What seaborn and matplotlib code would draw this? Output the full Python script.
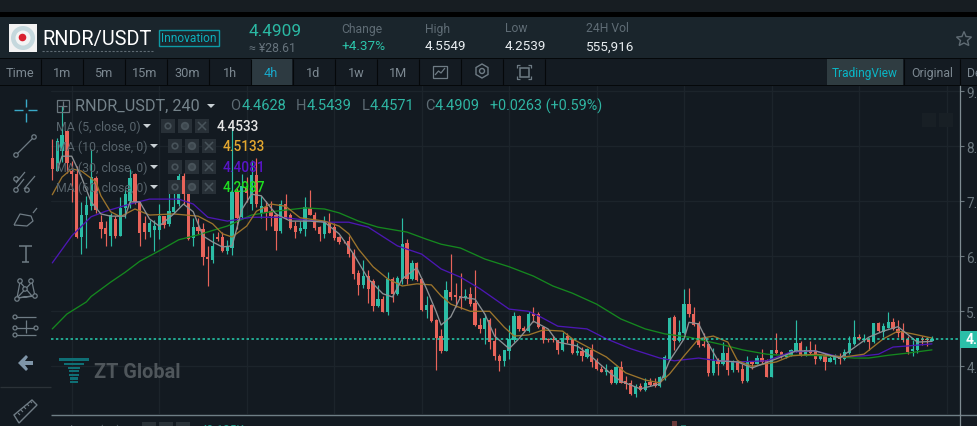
import matplotlib
matplotlib.use("Agg")
import matplotlib.pyplot as plt
from matplotlib.patches import Rectangle, Circle, Polygon
import numpy as np
import pandas as pd
import seaborn as sns

# --- candle data (4h RNDR/USDT) ---
opens = [7.78,7.56,7.91,8.28,7.55,7.49,6.35,6.75,6.91,7.43,6.62,6.51,6.37,6.67,6.37,6.87,7.00,7.49,6.98,6.60,
         6.44,6.48,6.48,6.73,6.58,6.81,6.95,7.46,7.19,6.33,6.54,6.49,5.99,5.93,6.36,6.35,6.10,6.15,7.17,6.72,
         7.25,6.95,7.47,6.79,6.90,6.82,6.75,6.46,6.95,6.75,6.55,6.46,6.49,6.87,6.76,6.54,6.40,6.61,6.54,6.35,
         6.28,6.27,6.06,5.69,5.47,5.65,5.55,5.10,5.22,4.99,5.58,5.31,5.58,6.24,5.59,5.88,5.58,5.02,5.11,4.84,
         4.56,4.28,5.36,5.29,5.28,5.24,5.31,5.15,4.76,4.67,4.85,4.46,4.19,4.10,4.28,4.47,4.92,4.70,4.65,4.95,
         4.95,4.72,4.49,4.49,4.47,4.29,4.55,4.49,4.24,4.28,4.17,4.29,4.10,3.96,3.90,3.93,3.69,3.99,3.73,3.70,
         3.49,3.64,3.57,3.72,3.69,3.64,3.78,4.13,4.90,4.46,4.60,5.13,4.96,4.78,4.40,4.40,3.87,4.10,4.04,4.24,
         3.93,4.07,3.95,3.73,4.08,4.05,4.15,4.11,3.81,4.29,4.26,4.17,4.19,4.27,4.42,4.19,4.29,4.28,4.13,4.20,
         4.08,4.12,4.17,4.13,4.24,4.40,4.54,4.48,4.49,4.44,4.78,4.62,4.70,4.81,4.68,4.64,4.49,4.28,4.29,4.50,
         4.49,4.4628]
closes = [7.58,8.10,8.20,7.70,7.49,6.35,6.76,6.94,7.45,6.85,6.49,6.40,6.76,6.37,6.88,7.14,7.43,6.98,6.43,6.44,
          6.60,6.55,6.73,6.57,6.82,6.90,7.46,7.13,6.32,6.53,6.46,5.99,5.95,6.19,6.31,6.10,6.18,7.17,6.70,7.28,
          7.16,7.47,6.96,6.92,6.79,6.73,6.46,6.95,6.70,6.52,6.45,6.51,6.90,6.76,6.52,6.40,6.63,6.43,6.33,6.26,
          6.27,6.04,5.67,5.47,5.65,5.40,5.10,5.22,4.99,5.58,5.31,5.61,6.22,5.58,5.88,5.57,5.02,5.11,4.82,4.52,
          4.27,5.38,5.26,5.26,5.24,5.28,5.13,4.75,4.67,4.87,4.44,4.18,4.10,4.29,4.49,4.92,4.67,4.65,4.95,4.91,
          4.72,4.48,4.47,4.47,4.29,4.52,4.48,4.24,4.27,4.18,4.31,4.07,3.95,3.90,3.93,3.69,3.98,3.70,3.67,3.49,
          3.62,3.57,3.70,3.66,3.64,3.80,4.16,4.88,4.46,4.62,5.13,4.96,4.75,4.38,4.37,3.87,4.10,4.04,4.24,3.93,
          4.09,3.93,3.73,4.08,4.05,4.15,4.08,3.81,4.29,4.24,4.17,4.22,4.29,4.42,4.19,4.29,4.25,4.13,4.19,4.08,
          4.15,4.17,4.13,4.26,4.42,4.54,4.49,4.50,4.44,4.78,4.64,4.73,4.81,4.67,4.61,4.47,4.26,4.31,4.51,4.47,
          4.47,4.4909]
highs = [8.13,8.16,8.73,8.28,7.73,7.64,6.98,7.10,7.95,7.46,6.76,6.64,6.79,6.73,7.07,7.22,7.58,7.52,7.00,6.73,
         6.66,6.66,6.95,6.73,7.34,7.28,7.52,7.52,7.19,6.70,6.70,6.60,6.19,6.43,6.45,6.45,6.30,8.35,7.25,7.50,
         7.45,7.75,7.79,7.10,7.00,7.00,6.79,7.03,7.13,6.78,6.64,6.64,7.07,7.20,6.80,6.55,6.73,6.78,6.60,6.37,
         6.30,6.37,6.13,5.76,5.94,5.75,5.58,5.47,5.28,5.72,5.62,5.64,6.70,6.31,5.93,5.90,5.60,5.27,5.13,4.86,
         4.67,5.56,6.04,5.51,5.70,5.41,5.45,5.75,4.88,4.96,4.87,4.70,4.23,4.30,4.76,4.98,4.93,4.73,5.00,5.08,
         4.98,4.73,4.52,4.55,4.48,4.63,4.60,4.50,4.42,4.35,4.34,4.40,4.16,4.00,4.04,3.96,4.00,4.09,3.82,3.76,
         3.67,3.70,3.79,3.79,3.79,3.82,4.20,4.90,4.93,4.85,5.40,5.43,5.07,4.82,4.61,4.41,4.34,4.16,4.44,4.35,
         4.11,4.12,4.04,4.19,4.09,4.20,4.31,4.13,4.30,4.61,4.28,4.24,4.31,4.85,4.46,4.37,4.46,4.40,4.22,4.25,
         4.19,4.22,4.25,4.31,4.56,4.84,4.58,4.58,4.52,4.79,4.81,4.79,4.98,4.88,4.84,4.78,4.56,4.47,4.52,4.55,
         4.53,4.5439]
lows = [7.39,7.55,7.71,7.52,6.98,6.34,6.04,6.16,6.85,6.79,6.34,6.19,6.19,6.34,6.37,6.70,6.88,6.95,6.19,6.31,
        6.36,6.10,6.31,6.52,6.55,6.79,6.92,6.95,6.30,6.19,6.40,5.85,5.46,5.87,6.27,6.08,6.05,6.02,6.50,6.70,
        6.98,6.85,6.90,6.70,6.48,6.55,6.11,6.43,6.67,6.49,6.34,6.43,6.37,6.76,6.48,6.27,6.34,6.43,6.30,6.22,
        6.25,5.99,5.58,5.29,5.43,5.15,5.00,5.07,4.98,4.93,5.17,5.29,5.49,5.50,5.57,5.55,5.00,4.87,4.80,3.93,
        4.25,4.27,5.20,5.07,5.04,5.20,5.10,4.73,4.61,4.40,4.31,4.12,3.91,4.00,4.13,4.45,4.65,4.63,4.63,4.80,
        4.70,4.43,4.44,4.45,4.22,4.27,4.42,4.22,4.20,4.10,4.16,3.99,3.94,3.89,3.84,3.67,3.68,3.69,3.58,3.48,
        3.44,3.56,3.56,3.64,3.63,3.63,3.76,4.12,4.30,4.45,4.59,4.90,4.73,4.36,4.35,3.82,3.85,3.85,4.02,3.84,
        3.90,3.90,3.70,3.72,3.96,4.04,4.05,3.80,3.80,4.22,4.16,4.15,4.18,4.26,4.18,4.18,4.22,4.05,4.12,3.93,
        4.07,4.04,4.05,4.12,4.23,4.38,4.47,4.45,4.29,4.43,4.62,4.53,4.69,4.66,4.54,4.45,4.23,4.19,4.25,4.39,
        4.37,4.4571]

# --- moving averages, as (candle number, price) pairs ---
ma5_idx = [1,2,4,6,8,10,12,15,16,18,20,22,25,27,29,31,33,35,37,39,41,43,46,49,53,56,59,62,65,68,70,72,75,77,79,80,
           82,84,87,89,91,94,96,99,102,104,108,111,115,117,121,125,127,130,131,133,135,137,141,144,150,153,157,162,
           168,171,174,178,181]
ma5_val = [7.55,7.82,7.82,7.44,6.99,6.77,6.73,6.73,6.99,6.99,6.68,6.55,6.77,6.95,6.81,6.37,6.26,6.17,6.19,6.85,
           7.13,7.10,6.77,6.64,6.64,6.62,6.41,6.04,5.59,5.32,5.26,5.59,5.79,5.41,4.99,4.75,4.90,5.26,5.22,4.95,
           4.55,4.32,4.50,4.82,4.68,4.44,4.37,4.17,3.86,3.73,3.59,3.68,4.10,4.50,4.80,4.77,4.41,4.10,4.08,3.97,
           4.17,4.28,4.28,4.15,4.53,4.64,4.72,4.44,4.4533]
ma10_idx = [0,2,4,6,9,10,12,14,17,20,25,30,33,35,37,40,42,45,48,51,56,59,61,63,66,69,72,75,78,80,82,86,90,93,95,98,
            101,105,107,111,114,118,122,125,127,130,133,136,139,141,144,149,152,157,163,167,171,174,177,181]
ma10_val = [7.12,7.44,7.59,7.55,7.35,7.10,6.81,6.72,6.86,6.75,6.77,6.73,6.59,6.41,6.35,6.55,6.82,6.95,6.91,6.70,
            6.64,6.55,6.41,6.13,5.81,5.59,5.46,5.50,5.48,5.28,5.13,5.00,5.00,4.71,4.55,4.57,4.66,4.64,4.50,4.31,
            4.17,3.88,3.75,3.70,3.86,4.19,4.50,4.55,4.44,4.10,4.00,4.08,4.19,4.22,4.17,4.22,4.50,4.64,4.59,4.5133]
ma30_idx = [0,4,8,11,16,20,26,29,32,36,41,47,52,57,61,65,71,76,80,84,88,94,98,100,104,110,114,119,125,128,133,137,
            141,147,152,157,162,167,170,173,176,181]
ma30_val = [5.88,6.37,6.72,6.82,6.95,7.04,7.04,6.95,6.71,6.64,6.71,6.71,6.66,6.62,6.62,6.53,6.19,6.04,5.77,5.62,
            5.41,5.04,5.00,4.92,4.73,4.68,4.50,4.32,4.15,4.10,4.15,4.10,4.08,4.10,4.26,4.28,4.17,4.19,4.22,4.35,
            4.37,4.4081]
ma60_idx = [0,3,7,8,12,15,18,22,26,30,36,41,45,48,52,56,59,63,67,73,77,80,84,89,94,99,103,107,112,117,122,126,131,
            138,142,147,150,155,159,165,168,172,176,181]
ma60_val = [4.68,4.95,5.17,5.27,5.53,5.71,5.91,6.10,6.30,6.39,6.55,6.75,6.81,6.84,6.88,6.86,6.79,6.64,6.53,6.44,
            6.31,6.22,6.15,5.95,5.81,5.64,5.46,5.33,5.13,4.86,4.68,4.59,4.53,4.39,4.30,4.22,4.20,4.20,4.19,4.15,
            4.15,4.20,4.24,4.2987]

price_ticks = [4, 5, 6, 7, 8, 9]
time_grid = list(range(4, 186, 18))
intervals = ["Time", "1m", "5m", "15m", "30m", "1h", "4h", "1d", "1w", "1M"]
stats = [("Change", "+4.37%", 341), ("High", "4.5549", 425), ("Low", "4.2539", 505), ("24H Vol", "555,916", 586)]
ohlc_row = [("O", "4.4628", 230, 242), ("H", "4.5439", 296, 307), ("L", "4.4571", 362, 370), ("C", "4.4909", 425, 435)]

UP, DOWN = "#2bbda6", "#e8645a"
BG, PANEL, HEADER = "#131a21", "#141b22", "#1a252c"
GRID, DIM, ICON = "#1c242b", "#57636b", "#6f7c85"

sns.set_theme(style="dark")
plt.rcParams["font.family"] = ["Roboto", "DejaVu Sans"]

W, H = 977, 427
fig = plt.figure(figsize=(W / 100, H / 100), dpi=100, facecolor=BG)

def pixel_axes(z):
    a = fig.add_axes([0, 0, 1, 1], zorder=z)
    a.set_xlim(0, W)
    a.set_ylim(H, 0)
    a.axis("off")
    a.patch.set_alpha(0)
    return a

back = pixel_axes(0)
front = pixel_axes(3)

def box(a, x0, y0, x1, y1, c, **kw):
    a.add_patch(Rectangle((x0, y0), x1 - x0, y1 - y0, facecolor=c, edgecolor=kw.pop("ec", "none"), **kw))

def seg(a, xs, ys, c=ICON, lw=0.9, **kw):
    a.plot(xs, ys, color=c, lw=lw, solid_capstyle="butt", **kw)

def label(a, x, y, s, c, size, **kw):
    kw.setdefault("va", "center")
    a.text(x, y, s, color=c, fontsize=size, **kw)

# page chrome behind the chart
box(back, 0, 0, W, 13, "#171d22")
box(back, 0, 13, W, 18, "#000000")
box(back, 0, 18, W, 59, HEADER)
box(back, 0, 59, W, 60, "#05080a")
box(back, 0, 60, W, 86, PANEL)
box(back, 0, 86, W, 87, "#05080a")
box(back, 251, 60, 292, 86, "#2d3a41")
box(back, 827, 60, 903, 86, "#2f3c41")
for x in [40.5, 82.5, 124.5, 166.5, 208.5, 250.5, 292.5, 334.5, 376.5, 418.5, 460.5, 502.5, 544.5, 903.5, 959.5]:
    seg(back, [x, x], [60, 86], "#05080a", 0.8)

# price chart
chart = fig.add_axes([51 / W, 1 - 415 / H, (959.5 - 51) / W, (415 - 87) / H], zorder=1)
chart.set_facecolor("none")
chart.set_xlim((51 - 52.3) / 4.86, (959.5 - 52.3) / 4.86)
chart.set_ylim(4 + (367.3 - 415) / 55, 4 + (367.3 - 87) / 55)

frame = pd.DataFrame({"open": opens, "high": highs, "low": lows, "close": closes})
frame["n"] = np.arange(len(frame))
frame["top"] = frame[["open", "close"]].max(axis=1)
frame["bottom"] = frame[["open", "close"]].min(axis=1)
colors = np.where(frame["close"] >= frame["open"], UP, DOWN)

chart.vlines(frame["n"], frame["low"], frame["high"], colors=colors, lw=0.85, zorder=3)
chart.bar(frame["n"], frame["top"] - frame["bottom"], bottom=frame["bottom"], width=0.68, color=colors, lw=0, zorder=4)

ma_styles = [(ma60_idx, ma60_val, "#15881f"), (ma30_idx, ma30_val, "#4c17b3"),
             (ma10_idx, ma10_val, "#9c742c"), (ma5_idx, ma5_val, "#8d9194")]
for idx, val, col in ma_styles:
    sns.lineplot(x=idx, y=val, color=col, lw=0.95, ax=chart, legend=False, estimator=None, sort=False, zorder=5)

chart.axhline(closes[-1], color="#26d0b0", lw=1.1, dashes=(1.6, 1.6), zorder=6)

chart.set_xticks(time_grid)
chart.set_yticks(price_ticks)
chart.set_yticklabels([f"{p:.1f}" for p in price_ticks])
chart.yaxis.tick_right()
chart.tick_params(axis="y", colors="#6b777e", length=3, width=0.8, pad=2, labelsize=9.8, right=True)
chart.tick_params(axis="x", length=0, labelbottom=False)
chart.grid(True, color=GRID, lw=0.9)
chart.set_axisbelow(True)
chart.set_xlabel("")
chart.set_ylabel("")
for name, spine in chart.spines.items():
    spine.set_visible(name == "right")
chart.spines["right"].set_color("#7f8c92")
chart.spines["right"].set_linewidth(0.9)

# pane separator and the top of the volume pane
seg(front, [51, W], [415.5, 415.5], "#6f7f86", 1.0)
seg(front, [959.5, 959.5], [415, H], "#7f8c92", 0.9)
box(front, 672, 422, 677, 427, "#6b3a3a")
box(front, 681, 426, 686, 427, "#1f6b62")
label(front, 56, 431, "Volume (20)", "#57636b", 8.6)
for x in [142, 159, 176]:
    box(front, x, 423, x + 14, 427, "#2a3238")
label(front, 201, 431, "43.125K", "#1f9a86", 8.6)

# ticker header
box(front, 9, 25, 37, 53, "#f2f2f2")
front.add_patch(Circle((23, 39), 12, facecolor="#c5d8dd", edgecolor="none"))
front.add_patch(Circle((23, 39), 7.5, facecolor="#f4f4f4", edgecolor="none"))
front.add_patch(Circle((22.5, 38.5), 3.8, facecolor="#d8202f", edgecolor="none"))
label(front, 42, 39, "RNDR/USDT", "#ffffff", 14.3)
seg(front, [42, 153], [52, 52], "#5f6b73", 0.8, ls=(0, (2, 1.5)))
front.add_patch(Rectangle((158.5, 30.5), 60, 16, facecolor="none", edgecolor="#0e9aa5", lw=1))
label(front, 188.5, 39, "Innovation", "#0eb0bc", 8.6, ha="center")
label(front, 249, 31.5, "4.4909", "#2bb8a3", 12.4)
label(front, 249, 49, "≈ ¥28.61", "#66737c", 8.8)
for title, value, x in stats:
    label(front, x, 29, title, "#5f6c75", 8.7)
    label(front, x, 47, value, "#2cc5ab" if title == "Change" else "#e8edf0", 9.7)
front.add_patch(Polygon([(964, 32.5), (966, 37.5), (971.5, 38), (967.5, 41.5), (968.8, 46.5), (964, 44),
                         (959.2, 46.5), (960.5, 41.5), (956.5, 38), (962, 37.5)],
                        closed=True, facecolor="none", edgecolor="#5f6b73", lw=1))

# interval toolbar
for name, cx in zip(intervals, [20, 62, 103, 145, 187, 230, 271, 313, 356, 398]):
    label(front, cx, 73.5, name, "#19a7c9" if name == "4h" else "#7c8891", 9.2, ha="center")
front.add_patch(Rectangle((432.5, 66.5), 14, 12, facecolor="none", edgecolor=ICON, lw=0.9))
seg(front, [435, 438.5, 441, 445], [76, 72, 74, 69])
front.add_patch(Polygon([(482, 65), (488, 68.5), (488, 75.5), (482, 79), (476, 75.5), (476, 68.5)],
                        closed=True, facecolor="none", edgecolor=ICON, lw=1))
front.add_patch(Circle((482, 72), 2.5, facecolor="none", edgecolor=ICON, lw=1))
for cx, cy, dx, dy in [(517, 66, 1, 1), (531, 66, -1, 1), (517, 80, 1, -1), (531, 80, -1, -1)]:
    seg(front, [cx, cx, cx + 3 * dx], [cy + 3 * dy, cy, cy])
front.add_patch(Rectangle((519.5, 68.5), 9, 9, facecolor="none", edgecolor=ICON, lw=1.1))
label(front, 865, 73.5, "TradingView", "#0ab5c5", 8.6, ha="center")
label(front, 932, 73.5, "Original", "#7c8891", 8.8, ha="center")
label(front, 967, 73.5, "Depth", "#7c8891", 8.8)

# last price tag
box(front, 959.5, 332, W, 349, "#2bbfa8")
label(front, 966, 340.5, f"{closes[-1]:.4f}", "#ffffff", 10, fontweight="bold")

# chart header row
front.add_patch(Rectangle((56.5, 100.5), 12, 12, facecolor="none", edgecolor="#6b777e", lw=0.9))
seg(front, [58, 67], [106.5, 106.5], "#6b777e")
seg(front, [62.5, 62.5], [102, 111], "#6b777e")
label(front, 75, 106.5, "RNDR_USDT, 240", "#74828a", 11.7)
front.add_patch(Polygon([(207, 105), (215, 105), (211, 109)], facecolor="#c9d0d4", edgecolor="none"))
for letter, value, lx, vx in ohlc_row:
    label(front, lx, 106.5, letter, "#5d6b73", 10.5)
    label(front, vx, 106.5, value, "#2fb5a3", 10.5)
label(front, 490, 106.5, "+0.0263 (+0.59%)", "#2fb5a3", 10.4)

# moving-average legend rows
rows = [("MA (5, close, 0)", f"{ma5_val[-1]:.4f}", "#e6e6e6", 127, 147, 161, 217),
        ("MA (10, close, 0)", f"{ma10_val[-1]:.4f}", "#e3a72f", 147, 154, 168, 223),
        ("MA (30, close, 0)", f"{ma30_val[-1]:.4f}", "#5a14c8", 168, 154, 168, 223),
        ("MA (60, close, 0)", f"{ma60_val[-1]:.4f}", "#1fe01f", 188, 154, 168, 223)]
for text, value, col, y, tri, bx, vx in rows:
    label(front, 56, y, text, "#58646c", 8.9)
    front.add_patch(Polygon([(tri - 4, y - 2), (tri + 4, y - 2), (tri, y + 2)], facecolor="#c9d0d4", edgecolor="none"))
    for k in range(3):
        bx0 = bx + 17 * k
        box(front, bx0, y - 7, bx0 + 14, y + 7, "#283037")
        if k == 0:
            front.add_patch(Circle((bx0 + 7, y), 2.8, facecolor="none", edgecolor="#48535a", lw=1.2))
        elif k == 1:
            front.add_patch(Circle((bx0 + 7, y), 3.2, facecolor="#3d474e", edgecolor="#48535a", lw=1.4))
        else:
            seg(front, [bx0 + 3, bx0 + 11], [y - 4, y + 4], "#48535a", 1.1)
            seg(front, [bx0 + 3, bx0 + 11], [y + 4, y - 4], "#48535a", 1.1)
    label(front, vx, y, value, col, 9.8, fontweight="medium")

for x in [922, 939]:
    box(front, x, 114, x + 14, 128, "#181f25")

# watermark
box(front, 59, 359, 89, 362, "#0f6f75")
for i, half in enumerate([10, 6, 5, 5, 4, 4]):
    box(front, 74 - half, 364 + 3.6 * i, 74 + half, 366.2 + 3.6 * i, "#0f6f75")
label(front, 94, 372.5, "ZT Global", "#565d62", 14.3, fontweight="bold", alpha=0.9)

# drawing tools on the left
seg(front, [14, 23], [111, 111], "#3aa9c8", 1)
seg(front, [28, 37], [111, 111], "#3aa9c8", 1)
seg(front, [25.5, 25.5], [100, 108], "#3aa9c8", 1)
seg(front, [25.5, 25.5], [114, 123], "#3aa9c8", 1)

def node(x, y, r=2.2):
    front.add_patch(Circle((x, y), r, facecolor=BG, edgecolor=ICON, lw=0.9, zorder=5))

seg(front, [16, 34], [156, 138])
node(16, 156)
node(34, 138)
for x0, y0, x1, y1 in [(16, 184, 25, 173), (24, 190, 35, 177), (16, 190, 24, 180)]:
    seg(front, [x0, x1], [y0, y1])
node(16, 180)
node(16, 191)
node(27, 191)
seg(front, [14, 20, 31, 33, 27, 14, 14], [226, 215, 217, 222, 227, 226, 226])
seg(front, [33, 37], [214, 209])
seg(front, [19, 32], [247, 247], ICON, 1.1)
seg(front, [25.5, 25.5], [247, 263], ICON, 1.1)
seg(front, [22, 29], [263, 263], ICON, 1.1)
seg(front, [20, 17, 32, 35], [283, 299, 283, 297])
seg(front, [20, 32, 17, 35], [283, 297, 299, 297])
node(20, 282)
node(31, 282)
node(17, 300)
node(35, 297)
node(25, 290)
for y in [318, 329, 336]:
    seg(front, [15, 36], [y, y])
    node(15, y, 2)
seg(front, [25.5, 25.5], [321, 334])
node(36, 329, 2)
front.add_patch(Polygon([(18, 364), (26, 356), (28, 358), (25, 362), (33, 362), (33, 366), (25, 366), (28, 370),
                         (26, 372)], facecolor="#7f95a8", edgecolor="none"))
seg(front, [0, 51], [387.7, 387.7], "#2b3238", 0.9)
front.add_patch(Polygon([(14, 416), (32, 401), (37, 406), (19, 424)], closed=True, facecolor="none", edgecolor=ICON, lw=1))
for k in range(5):
    seg(front, [18 + 3 * k, 20 + 3 * k], [414 - 3 * k, 416 - 3 * k], ICON, 0.8)

fig.savefig("out.png", dpi=100, facecolor=BG)
